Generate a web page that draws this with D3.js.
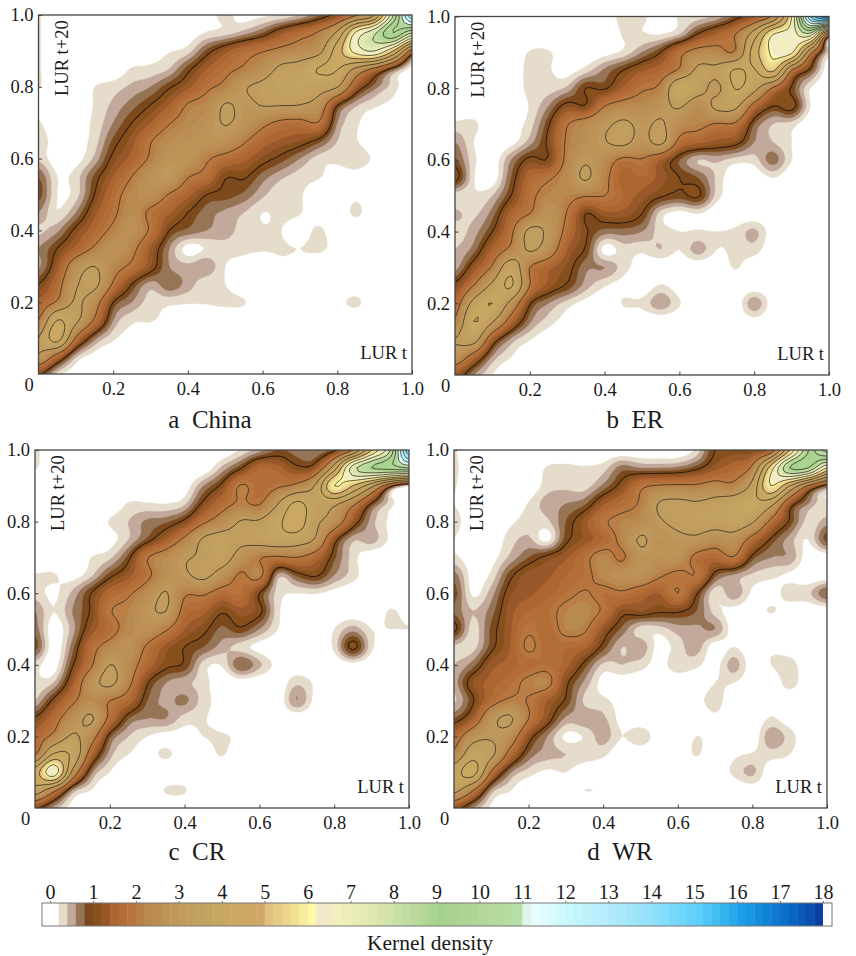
<!DOCTYPE html>
<html><head><meta charset="utf-8">
<script src="https://cdn.jsdelivr.net/npm/d3@7"></script>
<style>html,body{margin:0;padding:0;background:#fff}svg{display:block}text{font-family:"Liberation Serif",serif;fill:#1a1a1a}</style>
</head><body><svg id="c" width="856" height="956"></svg>
<script>
// Density at steps of 0.05: rows run y = 1.00 down to 0.00, columns x = 0 to 1.
const gridChina=[
[.22,0,0,0,0,0,0,0,0,.1,.25,.1,.15,.22,.4,.75,1.15,1.9,3,8,14],
[.22,0,0,0,0,.2,0,0,.05,.22,.3,.5,.8,1.3,1.7,2.1,3.2,6.2,7.8,10,8],
[.22,0,0,0,0,0,.1,.18,.3,.85,1.3,1.7,1.95,2.2,2.4,2.7,4.5,6.4,7,5,1.6],
[.22,0,0,0,0,.22,.25,.4,.9,1.4,1.8,2.1,2.5,3.2,3.4,4.05,4.05,2.8,1.8,.8,.1],
[.22,0,0,.2,.3,.45,.6,.95,1.3,1.85,2.2,2.9,3.2,3.5,3.6,3.4,3.05,1.4,.7,.3,0],
[.1,0,0,.22,.45,.7,1,1.4,2.05,2.3,3.05,2.8,3.05,3.05,3,2.6,1.05,.45,.25,.15,.2],
[.22,.05,.1,.25,.6,1,1.4,1.95,2.3,2.6,3.05,2.7,2.2,1.85,1.8,1.95,.6,.25,.05,0,0],
[.3,.1,.1,.3,.85,1.3,1.95,2.4,2.6,2.7,2.6,2.1,1.6,1.35,1.2,.9,.4,.22,0,0,0],
[.35,.05,.1,.45,1.1,1.5,2.1,2.7,2.75,2.1,1.75,1.5,1.15,.9,.6,.3,.25,.35,.15,0,0],
[.8,.2,.3,.85,1.4,2,2.6,2.85,2.05,1.75,1.05,1.05,.7,.45,.3,.22,.1,.1,0,0,0],
[.9,.2,.3,1,1.7,2.3,2.5,1.95,1.5,1,.9,.75,.45,.25,.22,.05,0,.15,0,0,0],
[.6,.22,.6,1.3,1.85,2.4,1.85,1.45,1,.7,.55,.4,.2,.25,.22,0,0,.25,0,0,0],
[.35,.55,1.1,1.6,2.15,2.5,1.9,1,.75,.6,.5,.3,.22,.2,.05,.25,0,0,0,0,0],
[.6,1,1.5,2.1,2.6,2.2,1.35,.6,.1,.22,.3,.25,.22,.22,.2,.25,.1,0,0,0,0],
[.55,1.3,2.5,3,2.3,1.85,1.2,.6,.45,.55,.2,.1,.05,.15,.1,0,0,0,0,0,0],
[1,1.7,2.9,3.2,1.9,1,.5,.75,.5,.25,.2,0,0,0,0,0,0,0,0,0,0],
[1.5,2.1,3.1,2.4,1,.6,.3,.25,.22,.22,.25,.22,0,0,0,0,.12,.25,0,0,0],
[2,4,3.2,1.9,.6,.25,.22,.12,.05,0,0,0,0,0,0,0,0,0,0,0,0],
[3,4.4,1.9,.7,.25,.1,0,0,0,0,0,0,0,0,0,0,0,0,0,0,0],
[2.9,1.7,.45,.1,0,0,0,0,0,0,0,0,0,0,0,0,0,0,0,0,0],
[1.1,.3,.05,0,0,0,0,0,0,0,0,0,0,0,0,0,0,0,0,0,0]];
const gridER=[
[0,0,0,0,0,0,0,0,0,.3,.25,.05,.22,.3,.45,.85,1.3,2.2,6,14,17],
[0,0,0,0,0,0,0,0,0,.22,.22,.2,.4,1.05,1.5,2,3.5,6,6.5,7.5,1.6],
[0,0,0,0,.22,.22,.05,0,.1,.25,.6,1,1.8,2.3,2.3,2.1,4.5,6.2,6.2,2.3,.3],
[0,0,0,0,.28,.22,.1,.3,.65,1,1.35,1.6,2.1,3.2,3.2,4.1,3.9,5.2,2,.9,0],
[0,0,0,0,.28,.3,.45,1,.95,1.45,1.9,2.2,3.9,3.4,2.8,4.05,3.3,1.9,.95,.2,0],
[0,0,0,0,.22,.6,1.15,1.05,2,2.3,2.35,2.7,3.1,2.4,3.2,3.2,1.7,1,1.15,.2,0],
[.25,.25,0,.1,.3,.95,1.95,2.4,2.8,3.15,2.8,3.1,2.4,2.2,1.95,1.9,.8,.4,.3,0,0],
[.6,.2,0,.1,.5,1.1,2.1,2.5,2.95,3.2,2.7,3.2,1.8,1.5,1.3,1.15,.6,.4,.2,0,0],
[.85,.25,.05,.6,1.1,1.05,2.2,2.9,2.4,1.85,1.95,1.4,.8,.4,.45,.3,.3,.7,.2,0,0],
[1.15,.22,.05,.8,1.6,1.9,2.4,3.1,2.2,1.5,1.6,1.3,1,.8,.35,0,0,.2,0,0,0],
[.25,.22,.4,1,1.8,2.25,2.2,2.05,2,1.6,1.3,1.05,.9,1.05,.3,.05,0,0,0,0,0],
[.45,.35,.7,1.5,2,2.6,1.95,1,1.3,1.3,1,.3,.1,.2,0,0,0,0,0,0,0],
[.3,.5,1,1.85,3.2,2.8,1.75,1.05,.7,.7,.6,.3,.2,.22,.2,.25,.45,.05,0,0,0],
[.4,.7,1.5,2.2,3.1,2.5,1.4,.95,.1,.3,.25,.4,.2,.5,.2,.25,.3,0,0,0,0],
[.5,1.25,2.1,3.6,2,1.5,1.15,.65,.6,.3,.05,0,0,0,0,.22,0,0,0,0,0],
[1.1,2,3.2,4.1,2,1.3,.95,.5,.22,.1,0,.22,.05,0,0,0,0,0,0,0,0],
[1.6,3.3,4,2.7,1.05,.6,.3,.1,0,.22,.25,.55,.22,0,0,0,.55,.05,0,0,0],
[2.1,4,3.1,1.6,.65,.3,.1,0,0,0,0,0,0,0,0,0,.1,0,0,0,0],
[3,3.4,1.4,.55,.22,.05,0,0,0,0,0,0,0,0,0,0,0,0,0,0,0],
[2.6,1.6,.55,.2,0,0,0,0,0,0,0,0,0,0,0,0,0,0,0,0,0],
[1.3,.6,.2,0,0,0,0,0,0,0,0,0,0,0,0,0,0,0,0,0,0]];
const gridCR=[
[.25,0,0,0,0,0,0,0,0,0,0,.22,.5,.8,.7,.6,.9,2,5,8,15],
[.22,0,0,0,0,0,0,0,0,0,.45,.95,1.6,1.5,1.1,1.3,3.5,7.5,9,9.5,10],
[0,0,0,0,0,0,0,0,.05,.6,1.1,2.05,1.7,1.9,2.2,3.1,6,5,3.3,1.2,.15],
[0,0,0,0,0,.22,.22,.2,.35,1.1,1.7,2.1,1.95,3,4.2,3.4,3.2,2.2,.95,.3,0],
[0,0,0,0,.22,.4,.65,.75,1.1,1.85,2.4,3.05,3.1,3.8,4.5,3.2,2.6,1.3,.5,.15,0],
[0,0,0,.05,.1,.4,.85,1.4,2.15,3.1,3.4,3.2,3.4,3.6,3.5,2.9,1.2,.45,.5,.15,0],
[0,0,0,.2,.35,.9,1.95,2.4,2.9,3.1,3.4,2.6,2.05,1.9,2,1.6,.85,.3,0,0,0],
[.22,.22,.1,.35,.9,1.3,1.85,2.5,2.85,3.2,2.6,1.9,2.2,.5,.85,1.05,.6,.3,0,0,0],
[.3,.15,.45,1,1.6,1.9,2.4,3.05,2.1,2.1,1.7,1.8,1,.3,.2,.22,.1,0,0,0,0],
[.6,.2,.6,1.05,1.95,2.2,2.8,3,1.75,1.5,1.05,1.3,1.1,.25,0,0,0,0,0,.22,.1],
[.7,.05,.5,1.25,1.7,2.3,2.5,2.1,1.4,1.1,.75,.95,.6,.2,0,0,.2,.5,.2,.2,.2],
[.9,.05,.7,1.7,2.3,2.55,1.9,1.3,1,.8,.5,.3,.1,0,0,0,.25,1.1,.25,0,0],
[.3,.05,.95,1.9,3,2.4,1.6,1.1,.95,.3,.22,.8,.45,.1,0,0,0,.1,0,0,0],
[.25,.4,1.35,2.6,3.2,2.2,1.05,.6,.45,.3,0,.05,0,0,.35,.15,0,0,0,0,0],
[.4,1.1,1.85,2.4,2,1.6,.8,.55,.65,.3,.1,0,0,0,.6,.1,0,0,0,0,0],
[1.05,1.7,2.5,3.1,1.8,.8,.6,.6,.3,.22,.1,0,0,0,0,0,0,0,0,0,0],
[1.6,2.2,3.1,2.4,.85,.4,.2,.1,.1,.2,.22,.15,0,0,0,0,0,0,0,0,0],
[1.9,4.1,3.8,1.6,.5,.2,.1,.25,.05,.05,.22,0,0,0,0,0,0,0,0,0,0],
[4.5,6.6,2.8,.7,.2,0,0,0,0,0,0,0,0,0,0,0,0,0,0,0,0],
[3.6,2.3,.6,.2,0,0,0,.22,.22,0,0,0,0,0,0,0,0,0,0,0,0],
[1.1,.5,.1,0,0,0,0,0,0,0,0,0,0,0,0,0,0,0,0,0,0]];
const gridWR=[
[.22,0,0,0,0,0,0,0,0,0,0,0,0,.25,1,1.1,1.1,1.5,5,9,11.5],
[.25,0,0,0,0,.22,.25,.22,.3,.7,.6,.6,.65,.9,1.3,1.6,2.2,5.5,9,9,6],
[.22,0,0,0,0,.3,.35,.3,.65,1.15,1.85,2.05,2.1,2.1,2.3,2.2,3.3,6,4,1.9,.8],
[.2,0,0,0,.22,.5,.6,.75,1.35,1.7,2.1,3.05,3.2,3.1,3.3,3.6,3.9,3.3,1.3,.6,.2],
[.3,0,0,.15,.3,.35,.8,1.3,1.9,2.2,2.4,2.9,3.2,3.4,3.4,3.5,3.1,1.8,.95,.3,.5],
[.2,0,0,.3,.45,.12,.9,1.25,1.6,2.2,3.1,2.6,2.8,2.8,2.4,2.6,1.7,.95,.5,.2,.9],
[.25,.05,.1,.45,.8,1.1,1.35,1.8,2.3,1.9,2.7,2.6,2.6,1.8,1.6,1.95,.9,.6,.55,.05,0],
[.7,.1,.25,.9,1.3,1.35,1.6,1.8,2.3,2.5,2.6,2.1,1.85,1.95,.85,.55,.35,.25,.15,0,0],
[.9,.15,.5,1.15,1.35,1.5,1.8,2.05,1.8,1.9,1.6,1.4,2,1.05,.25,.55,.15,.1,.3,.35,.8],
[.75,.4,.7,1.3,1.6,1.75,2.2,2.3,1.9,1.15,1.2,1.05,1.05,.8,.3,.1,.05,.22,.05,0,0],
[1.1,.3,.85,1.35,1.9,1.65,2.2,2.1,1.25,.75,.3,.3,.5,.55,.6,.05,0,0,0,0,0],
[.35,.3,.9,1.4,2.1,1.65,1.65,1.5,.9,.4,.55,.1,.3,.5,.05,.2,0,.15,.05,0,0],
[.4,.7,1.3,1.5,1.7,1.8,1.5,.9,.35,.4,.3,.1,.35,.25,.1,.5,.05,.2,.3,0,0],
[.5,1.2,1.5,1.75,2.15,2.2,1.1,.55,.1,.05,0,0,0,0,.2,.2,0,0,.3,0,0],
[.35,.95,1.7,2.1,1.95,1.4,.95,.35,.25,.1,0,0,0,.1,.3,0,0,.15,0,0,0],
[.8,1.4,2.7,3.1,2,1.2,.55,.55,.45,.1,0,0,0,0,.15,0,0,.22,.05,0,0],
[1.6,2.6,2.9,2.5,1.2,.6,.15,.22,.5,.2,.35,.05,0,.2,.1,0,0,.55,.3,0,0],
[2.2,3.6,3.2,1.7,.75,.5,.4,.35,.25,0,0,0,0,.22,0,.15,.22,.3,.2,0,0],
[3.6,4.4,1.9,.65,.3,.15,.2,0,0,0,0,0,0,0,0,.25,.45,0,0,0,0],
[3.3,2.1,.55,.22,0,0,0,.2,.15,0,0,.15,0,0,0,0,.05,0,0,0,0],
[1.2,.6,.15,0,0,0,0,0,0,0,0,0,0,0,0,0,0,0,0,0,0]];

const panelGrids=[gridChina,gridER,gridCR,gridWR];
const panelTitles=["a\u00a0\u00a0China","b\u00a0\u00a0ER","c\u00a0\u00a0CR","d\u00a0\u00a0WR"];
const axisTicks=[.2,.4,.6,.8,1];
const barTicks=d3.range(0,19);
const colorStops=[0.2,0.4,0.6,0.8,1,1.2,1.4,1.8,2.2,3,4,4.8,5,5.6,6,6.2,6.6,7.4,8,9,10,10.8,11,11.2,12,13,14,15,15.6,16,17,17.6,18];
const colorValues=["#e6dccb","#c2a99b","#957457","#7c4a1e","#86501f","#98582a","#ad6530","#b8743e","#b98a50","#c09c5f","#c8a860","#cfa866","#e0c080","#f0e090","#fdf9a8","#f2e8d0","#f2f0bc","#dfe8b0","#c8dfa6","#a5d18c","#b4d69a","#b5dfa5","#e0f4e8","#e8fdff","#c8f8fc","#b0eafa","#8ee0fa","#5ccffa","#35b5f0","#1c9fe8","#0a70c8","#0a4fb0","#082f90"];

const frames=[{l:38.5,r:412,t:15,b:374,tx:210,ty:428},{l:455,r:829,t:16.5,b:375,tx:635,ty:428},{l:35,r:409,t:450,b:808,tx:197,ty:860},{l:454,r:827,t:450,b:808,tx:620,ty:860}];
const color=d3.scaleLinear().domain(colorStops).range(colorValues);
const svg=d3.select("#c");
const defs=svg.append("defs");
defs.append("filter").attr("id","soft").attr("x","-2%").attr("y","-2%").attr("width","104%").attr("height","104%")
  .append("feGaussianBlur").attr("stdDeviation",.5);

const levels=d3.range(1,90).map(i=>i*.2);
const lineLevels=d3.range(1,18);
const fine=5;
function cr(a,b,c,d,t){return .5*(2*b+(c-a)*t+(2*a-5*b+4*c-d)*t*t+(3*b-a-3*c+d)*t*t*t);}
function refine(rows){
  const g=rows.slice().reverse(),n=g.length,N=(n-1)*fine+1,out=new Float64Array(N*N);
  const at=(i,j)=>g[Math.max(0,Math.min(n-1,j))][Math.max(0,Math.min(n-1,i))];
  for(let J=0;J<N;J++)for(let I=0;I<N;I++){
    const fx=I/fine,fy=J/fine,i=Math.min(n-2,Math.floor(fx)),j=Math.min(n-2,Math.floor(fy)),tx=fx-i,ty=fy-j,c=[];
    for(let k=-1;k<3;k++)c.push(cr(at(i-1,j+k),at(i,j+k),at(i+1,j+k),at(i+2,j+k),tx));
    out[J*N+I]=Math.max(0,cr(c[0],c[1],c[2],c[3],ty));
  }
  return {values:out,N};
}
panelGrids.forEach((rows,p)=>{
  const f=frames[p];
  const x=d3.scaleLinear().domain([0,1]).range([f.l,f.r]);
  const y=d3.scaleLinear().domain([0,1]).range([f.b,f.t]);
  const {values,N}=refine(rows);
  const toData=c=>(c-.5)/(N-1);
  const path=d3.geoPath(d3.geoTransform({point(a,b){this.stream.point(x(toData(a)),y(toData(b)));}}));
  const contours=d3.contours().size([N,N]);
  const cid="clip"+p;
  defs.append("clipPath").attr("id",cid).append("rect").attr("x",f.l).attr("y",f.t).attr("width",f.r-f.l).attr("height",f.b-f.t);
  const g=svg.append("g").attr("clip-path",`url(#${cid})`);
  const fills=g.append("g").attr("filter","url(#soft)");
  levels.forEach(t=>{
    const c=contours.contour(values,t);
    if(c.coordinates.length)fills.append("path").attr("d",path(c)).attr("fill",color(t)).attr("stroke",color(t)).attr("stroke-width",.3);
  });
  lineLevels.forEach(t=>{
    const c=contours.contour(values,t);
    if(c.coordinates.length)fills.append("path").attr("d",path(c)).attr("fill","none").attr("stroke",t===1?"#2b1a0c":"#2e2a1c").attr("stroke-width",t===1?1.1:.8).attr("stroke-opacity",.95);
  });
  svg.append("rect").attr("x",f.l).attr("y",f.t).attr("width",f.r-f.l).attr("height",f.b-f.t).attr("fill","none").attr("stroke","#444").attr("stroke-width",1.3);
  const fmt=d3.format(".1f");
  const ax=svg.append("g").attr("transform",`translate(0,${f.b})`).call(d3.axisBottom(x).tickValues(axisTicks).tickFormat(fmt).tickSize(-3.5).tickPadding(8));
  const ay=svg.append("g").attr("transform",`translate(${f.l},0)`).call(d3.axisLeft(y).tickValues(axisTicks).tickFormat(fmt).tickSize(-3.5).tickPadding(5));
  [ax,ay].forEach(a=>{a.select(".domain").remove();a.selectAll("line").attr("stroke","#444");a.selectAll("text").attr("font-size",18.5).attr("font-family","Liberation Serif").attr("fill","#1a1a1a");});
  ax.selectAll("text").attr("dy","0.72em");
  svg.append("text").attr("x",f.l-9.5).attr("y",f.b+17).attr("text-anchor","middle").attr("font-size",18.5).text("0");
  svg.append("text").attr("transform",`translate(${f.l+29},${f.t+81}) rotate(-90)`).attr("font-size",18.5).text("LUR t+20");
  svg.append("text").attr("x",f.r-5).attr("y",f.b-15).attr("text-anchor","end").attr("font-size",18.5).text("LUR t");
  svg.append("text").attr("x",f.tx).attr("y",f.ty).attr("text-anchor","middle").attr("font-size",25).text(panelTitles[p]);
});
// colour bar
const bx=d3.scaleLinear().domain([0,18]).range([50,823]);
const barTop=903,barBottom=926;
const bar=svg.append("g");
levels.forEach(t=>{
  bar.append("rect").attr("x",bx(t)).attr("y",barTop).attr("width",bx(t+.2)-bx(t)+.4).attr("height",barBottom-barTop).attr("fill",color(t));
});
bar.append("rect").attr("x",bx(18)).attr("y",barTop).attr("width",9).attr("height",barBottom-barTop).attr("fill","#fff");
bar.append("rect").attr("x",42).attr("y",barTop).attr("width",790).attr("height",barBottom-barTop).attr("fill","none").attr("stroke","#777").attr("stroke-width",1);
const bax=svg.append("g").attr("transform",`translate(0,${barTop})`).call(d3.axisTop(bx).tickValues(barTicks).tickFormat(d3.format("d")).tickSize(2).tickPadding(2));
bax.select(".domain").remove();
bax.selectAll("line").attr("stroke","#777");
bax.selectAll("text").attr("font-size",20).attr("font-family","Liberation Serif").attr("fill","#1a1a1a");
svg.append("text").attr("x",430).attr("y",950).attr("text-anchor","middle").attr("font-size",21.5).text("Kernel density");
</script></body></html>
